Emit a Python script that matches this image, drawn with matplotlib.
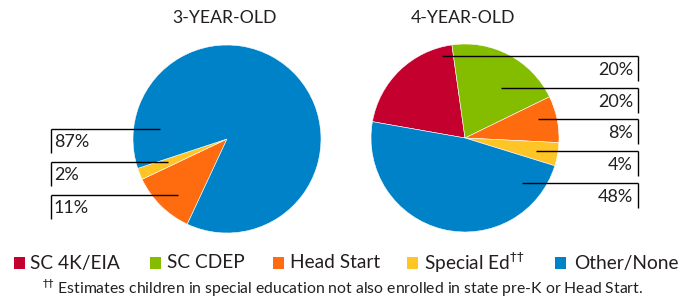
import matplotlib
matplotlib.use("Agg")
import matplotlib.pyplot as plt
from matplotlib.patches import Rectangle

# ---------------- data ----------------
categories = ["SC 4K/EIA", "SC CDEP", "Head Start", "Special Ed", "Other/None"]
legend_labels = ["SC 4K/EIA", "SC CDEP", "Head Start", "Special Ed$^{\u2020\u2020}$", "Other/None"]
colors = ["#C4002F", "#84BC00", "#FF6B0F", "#FFC425", "#0082C8"]
three_year = [0, 0, 11, 2, 87]
four_year = [20, 20, 8, 4, 48]
titles = ["3-YEAR-OLD", "4-YEAR-OLD"]
three_labels = ["87%", "2%", "11%"]
four_labels = ["20%", "20%", "8%", "4%", "48%"]
footnote = "$^{\u2020\u2020}$ Estimates children in special education not also enrolled in state pre-K or Head Start."

# ---------------- layout ----------------
W, H = 693, 303
plt.rcParams['font.family'] = ['Lato', 'DejaVu Sans']
plt.rcParams['mathtext.fontset'] = 'custom'
plt.rcParams['mathtext.rm'] = 'DejaVu Sans'
TXT = "#231F20"
fig = plt.figure(figsize=(W / 100, H / 100), dpi=100)

R = 94
centers = [(227, 139), (465, 138)]
starts = [245, 170]


def pie_axes(cx, cy, r):
    ax = fig.add_axes([(cx - r) / W, (H - cy - r) / H, 2 * r / W, 2 * r / H])
    ax.axis('off')
    return ax


for (cx, cy), vals, st in zip(centers, [three_year, four_year], starts):
    ax = pie_axes(cx, cy, R)
    v = [x for x in vals if x > 0]
    c = [col for x, col in zip(vals, colors) if x > 0]
    ax.pie(v, colors=c, startangle=st, counterclock=False, radius=1,
           wedgeprops=dict(edgecolor='white', linewidth=0.4))
    ax.set_xlim(-1, 1)
    ax.set_ylim(-1, 1)

ov = fig.add_axes([0, 0, 1, 1])
ov.set_xlim(0, W)
ov.set_ylim(H, 0)
ov.axis('off')
ov.set_zorder(5)

# titles
ov.text(225, 18, titles[0], ha='center', va='center', fontsize=12.7, color=TXT)
ov.text(463, 18, titles[1], ha='center', va='center', fontsize=12.7, color=TXT)

lw = 1.0
# left leader lines
left_y = [129, 162, 195]
left_inner = [160, 168, 178]
for y, xi, lab in zip(left_y, left_inner, three_labels):
    ov.plot([51, xi], [y, y], color='black', lw=lw, solid_capstyle='butt')
    ov.plot([51, 51], [y, y + 24], color='black', lw=lw, solid_capstyle='butt')
    ov.text(54, y + 13, lab, ha='left', va='center', fontsize=13, color=TXT)

# right leader lines
right_y = [56, 88, 119, 151, 183]
right_inner = [442, 501, 538, 536, 522]
for y, xi, lab in zip(right_y, right_inner, four_labels):
    ov.plot([xi, 638], [y, y], color='black', lw=lw, solid_capstyle='butt')
    ov.plot([638, 638], [y, y + 25], color='black', lw=lw, solid_capstyle='butt')
    ov.text(633, y + 14, lab, ha='right', va='center', fontsize=13, color=TXT)

# legend
sq_x = [14, 150, 273, 407, 555]
txt_x = [30, 167, 290, 424, 574]
for sx, tx, col, lab in zip(sq_x, txt_x, colors, legend_labels):
    ov.add_patch(Rectangle((sx, 257), 11, 12, color=col, lw=0))
    ov.text(tx, 263, lab, ha='left', va='center', fontsize=13.8, color=TXT)

ov.text(343, 288, footnote, ha='center', va='center', fontsize=11.3, color=TXT)

fig.savefig("out.png", dpi=100)
